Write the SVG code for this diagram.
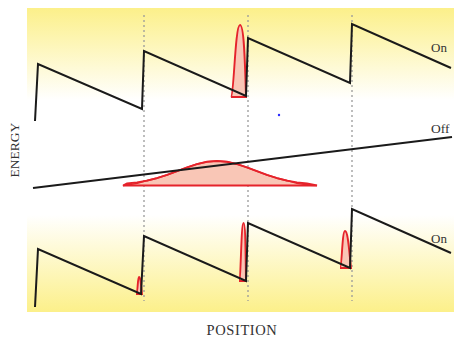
<svg xmlns="http://www.w3.org/2000/svg" width="454" height="338" viewBox="0 0 454 338">
<defs>
<linearGradient id="gTop" x1="0" y1="0" x2="0" y2="1">
<stop offset="0" stop-color="#fcf08a"/>
<stop offset="1" stop-color="#ffffff"/>
</linearGradient>
<linearGradient id="gBot" x1="0" y1="0" x2="0" y2="1">
<stop offset="0" stop-color="#ffffff"/>
<stop offset="1" stop-color="#fcf08a"/>
</linearGradient>
</defs>
<style>
.saw{fill:none;stroke:#1a1a1a;stroke-width:2;stroke-linejoin:miter}
.dash{stroke:#9a9a9a;stroke-width:1.3;stroke-dasharray:2 3}
.pk{fill:#f9c6b6;stroke:#e5232b;stroke-width:1.9}
.lbl{font-family:"Liberation Serif",serif;fill:#333}
</style>
<rect x="27" y="8" width="427" height="92" fill="url(#gTop)"/>
<rect x="27" y="215" width="427" height="97" fill="url(#gBot)"/>
<g id="connectors">
<line class="dash" x1="144" y1="15" x2="144" y2="301"/>
<line class="dash" x1="248" y1="15" x2="248" y2="301"/>
<line class="dash" x1="352" y1="15" x2="352" y2="301"/>
</g>
<g id="gauss">
<path class="pk" d="M123,185.5 L127,183.5 L137,182.4 L147,180.6 L157,178.1 L167,174.9 L177,171.2 L187,167.4 L197,164.1 L207,161.8 L217,161 L227,161.8 L237,164.1 L247,167.4 L257,171.2 L267,174.9 L277,178.1 L287,180.6 L297,182.4 L307,183.5 L317,185.5 Z" stroke="none"/>
<path d="M123,185.5 L127,185 C133,184.5 140,183 147,180.6 L157,178.1 L167,174.9 L177,171.2 L187,167.4 L197,164.1 L207,161.8 L217,161 L227,161.8 L237,164.1 L247,167.4 L257,171.2 L267,174.9 L277,178.1 L287,180.6 C294,183 302,184.8 310,185.3 L317,185.5" fill="none" stroke="#e5232b" stroke-width="1.6" stroke-linejoin="round"/>
</g>
<g id="off-line">
<line x1="33" y1="188" x2="452" y2="137" stroke="#1a1a1a" stroke-width="2"/>
<text class="lbl" x="431" y="133" font-size="13.5">Off</text>
</g>
<g id="top-peak">
<path class="pk" d="M231,97 C234,96 235,25 240,25 C244,25 245,60 246,97 Z"/>
</g>
<g id="top-saw">
<polyline class="saw" points="35,121 38,64 142,109 144,51 246,96 248,38 350,83 352,24 451,68"/>
<text class="lbl" x="431" y="52" font-size="13">On</text>
</g>
<g id="bottom-peaks">
<path class="pk" d="M136,294 C138,294 137.5,277 139,277 C140.5,277 141,285 142,294 Z"/>
<path class="pk" d="M239,281 C241,281 241,223 243.5,223 C245.5,223 245.5,250 246,281 Z"/>
<path class="pk" d="M340,268 C342,268 342,231 345,231 C348,231 349,250 351,268 Z"/>
</g>
<g id="bottom-saw">
<polyline class="saw" points="35,307 38,249 141,294 144,236 246,281 248,223 350,268 352,209 451,253"/>
<text class="lbl" x="431" y="243" font-size="13">On</text>
</g>
<circle cx="279" cy="115" r="1.2" fill="#2a2aff"/>
<text class="lbl" transform="translate(18.5,150) rotate(-90)" text-anchor="middle" font-size="13.5">ENERGY</text>
<text class="lbl" x="242" y="335" text-anchor="middle" font-size="14.5" letter-spacing="0.6">POSITION</text>
</svg>
